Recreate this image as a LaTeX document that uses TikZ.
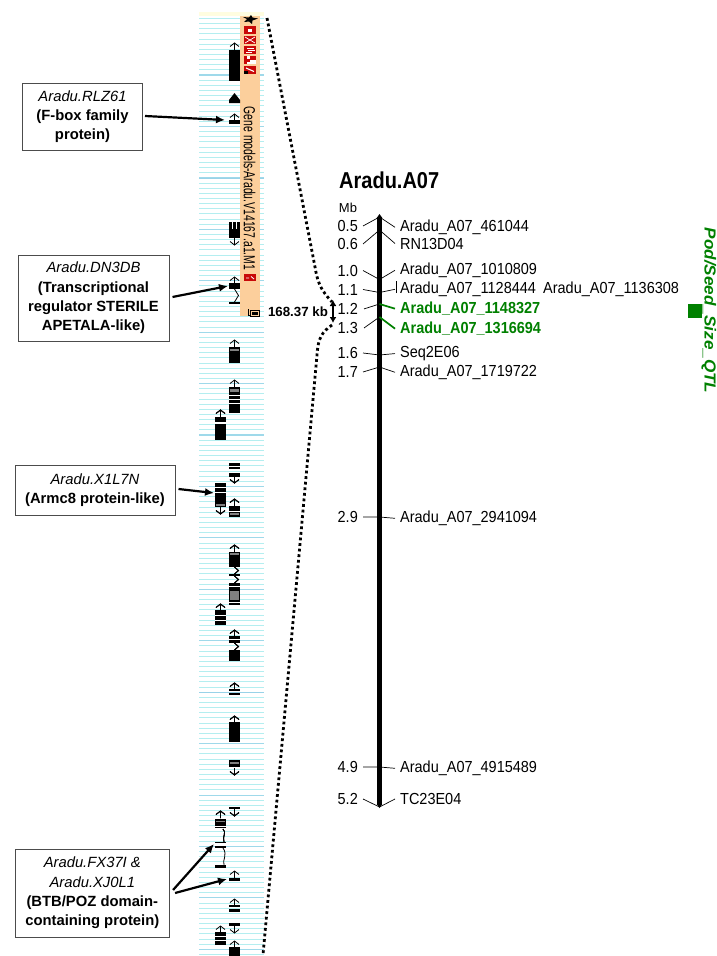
\documentclass[tikz,border=0pt]{standalone}
\usepackage{fontspec}
\setmainfont{Liberation Sans}
\usetikzlibrary{arrows.meta}
\definecolor{ltcy}{HTML}{B4EEF0}
\definecolor{dkcy}{HTML}{98D2E8}
\definecolor{orng}{HTML}{FCCF9C}
\definecolor{qtl}{HTML}{008000}
\definecolor{icr}{HTML}{C80808}
\tikzset{
 x=1pt,y=-1pt,
 lbox/.style={draw=black!70,line width=1pt,fill=white,align=center,font=\fontsize{14.8}{19.3}\selectfont,inner sep=0pt},
 pointer/.style={line width=2.2pt,-{Latex[length=9pt,width=8pt]}},
 dots/.style={line width=2.8pt,dash pattern=on 2.8pt off 2.8pt},
 mk/.style={font=\fontsize{16}{16}\selectfont,inner sep=0pt,anchor=base west,xscale=.905},
 mb/.style={font=\fontsize{16}{16}\selectfont,inner sep=0pt,anchor=base east,xscale=.905},
 gmk/.style={mk,text=qtl,font=\fontsize{16}{16}\selectfont\bfseries},
 tick/.style={line width=.7pt},
 gtick/.style={line width=1.7pt,qtl},
 thin1/.style={line width=.8pt,black},
}
\newcommand{\ua}[2]{\draw[thin1] (#1,#2+7)--(#1,#2) (#1-4.5,#2+3.5)--(#1,#2)--(#1+4.5,#2+3.5);}
\newcommand{\da}[2]{\draw[thin1] (#1,#2-7)--(#1,#2) (#1-4.5,#2-3.5)--(#1,#2)--(#1+4.5,#2-3.5);}
\newcommand{\rb}[3]{\fill[black] (#1-5.5,#2) rectangle (#1+5.5,#3);}
\newcommand{\gb}[3]{\fill[gray] (#1-4.5,#2) rectangle (#1+4.5,#3);}
\newcommand{\wb}[3]{\fill[white] (#1-5.5,#2) rectangle (#1+5.5,#3);}
\newcommand{\kink}[3]{\draw[thin1] (#1,#2)--(#1+4,#2+.5*#3-.5*#2)--(#1,#3);}
\begin{document}
\begin{tikzpicture}
\useasboundingbox (0,0) rectangle (717,956);
\fill[white] (0,0) rectangle (717,956);
% gene track background
\fill[yellow!12!white] (199,12) rectangle (264,16);
\foreach \i in {0,...,182} \draw[ltcy,line width=1.05pt] (199,18.5+\i*5.143)--(264,18.5+\i*5.143);
\foreach \i in {0,...,17} \draw[dkcy!75!ltcy,line width=1.05pt] (199,75+\i*51.43)--(264,75+\i*51.43);
\foreach \y in {178.4,692.7} \draw[dkcy,line width=1.1pt] (199,\y)--(264,\y);
% orange strip
\fill[orng] (240,16) rectangle (260,316);
\node[rotate=-90,font=\fontsize{16}{16}\selectfont,inner sep=0pt,xscale=.65] (gm) at (249.5,188.5) {Gene models-Aradu.V14167.a1.M1};
% icons
\fill[black] (249,17.5)--(251,15)--(252.5,17.5)--(258,18.5)--(252.5,20.5)--(252,24)--(249,21.5)--(244,22)--(247,19)--(243,17)--cycle;
\foreach \y in {26,36,46,56,66} \fill[icr] (244,\y) rectangle (256,\y+8);
\fill[white] (248,28.5) rectangle (252,31.5);
\draw[white,line width=.7pt] (245,37)--(255,43) (245,43)--(255,37);
\draw[white,line width=.7pt] (247,48)--(254,48) (248,50)--(255,50) (246,52)--(252,52);
\fill[white] (247,56) rectangle (250,58.5);\fill[white] (250,60) rectangle (256,64);\fill[white] (247,61.5) rectangle (250,64);
\draw[white,line width=1.1pt] (246,68)--(254,71.5);\fill[black] (244,70.5) rectangle (248,74);
\fill[icr] (244,274) rectangle (256,281);
\draw[white,line width=.8pt] (246,278)--(249,278) (251,276.5)--(254,279);
\draw[line width=.8pt] (248.5,309)--(248.5,315)--(258,315);
\draw[line width=.8pt,fill=orng] (250.5,310) rectangle (259.5,316);
\fill[black] (252,311.5) rectangle (258,314.5);
% genes
\def\R{234.5}\def\L{220.5}
\ua{\R}{43}\rb{\R}{50}{81}
\fill[black] (229,103)--(229,100)--(234.5,93)--(240,100)--(240,103)--cycle;
\ua{\R}{114}\rb{\R}{120}{124}
\rb{\R}{222}{238}\da{\R}{245}\foreach \x in {232.4,236.4}\fill[white](\x,222) rectangle (\x+.6,229);
\ua{\R}{277}\rb{\R}{283}{289}\kink{\R}{289}{302}\rb{\R}{302}{304}
\ua{\R}{340}\rb{\R}{347}{363}
\gb{\R}{349}{351}
\ua{\R}{380}\rb{\R}{387}{413}\gb{\R}{388.5}{392}\foreach \y in {395,399,403}\wb{\R}{\y}{\y+.9}
\ua{\L}{410}\rb{\L}{417}{440}\wb{\L}{422}{423.5}
\rb{\R}{463}{469}\wb{\R}{465.5}{466.2}\rb{\R}{473}{477}\da{\R}{483}
\rb{\L}{483}{507}\wb{\L}{487}{487.8}\wb{\L}{492}{492.8}\gb{\L}{504}{506}\da{\L}{514}
\ua{\R}{499}\rb{\R}{506}{517}\wb{\R}{511}{512}\gb{\R}{513}{515}
\ua{\R}{545}\rb{\R}{552}{567}\gb{\R}{553}{555}
\rb{\R}{574}{576}\kink{\R}{567}{574}\kink{\R}{576}{583}\rb{\R}{583}{590}\wb{\R}{586}{587}
\rb{\R}{590}{605}\gb{\R}{591}{600}\wb{\R}{601.5}{602.5}
\ua{\L}{604}\rb{\L}{610}{625}\wb{\L}{615}{616}\wb{\L}{620}{621}
\ua{\R}{630}\rb{\R}{636}{643}\wb{\R}{639}{640}\rb{\R}{650}{661}\kink{\R}{643}{650}
\ua{\R}{683}\rb{\R}{689}{691}\rb{\R}{693}{695}
\ua{\R}{716}\rb{\R}{722}{742}
\rb{\R}{760}{767}\gb{\R}{762}{763.5}\da{\R}{775}
\rb{\R}{807}{809}\da{\R}{816}
\ua{\L}{811}\rb{\L}{819}{828}\gb{\L}{821}{822}\wb{\L}{826}{826.8}
\draw[thin1] (223,829) .. controls (227,833) and (222,836) .. (224,842);
\rb{\L}{841.5}{842.7}\rb{\L}{846}{848}
\draw[thin1] (223,848) .. controls (228,855) and (222,860) .. (224,865);
\rb{\L}{865}{868}
\ua{\R}{871}\rb{\R}{878}{881}
\ua{\R}{899}\rb{\R}{905}{907}\rb{\R}{909}{912}
\ua{\L}{926}\rb{\L}{932}{945}\wb{\L}{936}{936.8}\wb{\L}{940}{940.8}
\rb{\R}{923}{926}\da{\R}{933}
\ua{\R}{941}\rb{\R}{947}{956}
% dotted zoom lines
\coordinate (zt) at (267,18);
\coordinate (zk1) at (332,302);
\coordinate (zk2) at (332,325);
\coordinate (zb) at (263,955);
\draw[dots] (zt) -- (315,267) .. controls (318,285) and (322,291) .. (zk1);
\draw[dots] (zk2) .. controls (322,332) and (318,338) .. (317,355) -- (zb);
\coordinate (ka) at (333,300);
\coordinate (kb) at (333,323);
\draw[line width=1.9pt,{Latex[length=6pt,width=7pt]}-{Latex[length=6pt,width=7pt]}] (ka)--(kb);
\node[font=\fontsize{13.3}{14}\selectfont\bfseries,inner sep=0pt] (kbl) at (298,311.5) {168.37 kb};
% label boxes
\node[lbox,minimum width=120pt,minimum height=67pt] (b1) at (82.5,116.5) {\textit{Aradu.RLZ61}\\\textbf{(F-box family}\\\textbf{protein)}};
\node[lbox,minimum width=151pt,minimum height=86pt] (b2) at (93.5,298) {\textit{Aradu.DN3DB}\\\textbf{(Transcriptional}\\\textbf{regulator STERILE}\\\textbf{APETALA-like)}};
\node[lbox,minimum width=160pt,minimum height=50pt] (b3) at (95,490) {\textit{Aradu.X1L7N}\\\textbf{(Armc8 protein-like)}};
\node[lbox,minimum width=154.5pt,minimum height=88pt] (b4) at (92.3,893) {\textit{Aradu.FX37I \&}\\\textit{Aradu.XJ0L1}\\\textbf{(BTB/POZ domain-}\\\textbf{containing protein)}};
\coordinate (g1) at (225,120);
\coordinate (g2) at (228,286);
\coordinate (g3) at (214,493);
\coordinate (g4a) at (214,844);
\coordinate (g4b) at (227,879);
\draw[pointer] ([xshift=2pt]b1.east|-0,116)--(g1);
\draw[pointer] ([xshift=3pt]b2.east|-0,297)--(g2);
\draw[pointer] ([xshift=3pt]b3.east|-0,489)--(g3);
\draw[pointer] ([xshift=3pt]b4.east|-0,890)--(g4a);
\draw[pointer] ([xshift=5pt]b4.east|-0,893)--(g4b);
% linkage group
\node[font=\fontsize{23}{23}\selectfont\bfseries,inner sep=0pt,anchor=west,xscale=.87] (ttl) at (339,180) {Aradu.A07};
\node[font=\fontsize{13}{14}\selectfont,inner sep=0pt] (mbl) at (348,208) {Mb};
\draw[line width=5.6pt] (379.5,218)--(379.5,804);
\fill[black] (376.7,218)--(379.5,214)--(382.3,218)--cycle;
\fill[black] (376.7,804)--(379.5,808)--(382.3,804)--cycle;
% markers
\foreach \n/\lab/\yl in {
 a/Aradu\_A07\_461044/231.5,
 b/RN13D04/249,
 c/Aradu\_A07\_1010809/274.5,
 d/Aradu\_A07\_1128444/293.5,
 g/Seq2E06/357.5,
 h/Aradu\_A07\_1719722/376.5,
 i/Aradu\_A07\_2941094/522.5,
 j/Aradu\_A07\_4915489/772.5,
 k/TC23E04/804.5}
 {\node[mk] (m\n) at (400,\yl) {\lab};}
\foreach \n/\lab/\y in {a/0.5/231.5,b/0.6/249.5,c/1.0/276,d/1.1/295,g/1.6/358.5,h/1.7/377.5,i/2.9/522.5,j/4.9/772.5,k/5.2/804.5}
 {\node[mb] (v\n) at (358,\y) {\lab};}
\node[mb] (ve) at (358,314.5) {1.2};
\node[mb] (vf) at (358,333.5) {1.3};
\node[gmk] (me) at (400,313.5) {Aradu\_A07\_1148327};
\node[gmk] (mf) at (400,333.5) {Aradu\_A07\_1316694};
\node[mk] (md2) at (543,293.5) {Aradu\_A07\_1136308};
% ticks
\foreach \n/\yc in {a/217,b/230,c/279.5,d/292.5,g/355,h/367,i/517,j/767,k/807}{
 \coordinate (c\n) at (379.5,\yc);
 \draw[tick] ([xshift=5pt]v\n.east)--(c\n)--([xshift=-5pt]m\n.west);
}
\coordinate (ce) at (379.5,304);
\coordinate (cf) at (379.5,317);
\draw[tick] ([xshift=6pt]ve.east)--(ce);
\draw[tick] ([xshift=6pt]vf.east)--(cf);
\draw[gtick] (ce)--([xshift=-5pt]me.west);
\draw[gtick] (cf)--([xshift=-5pt]mf.west);
\coordinate (dbar) at (396.8,281);
\draw[tick] (dbar)--(dbar|-0,293);
% QTL
\fill[qtl] (688,304) rectangle (702,318);
\node[rotate=-90,font=\fontsize{16}{16}\selectfont\bfseries\itshape,text=qtl,inner sep=0pt,anchor=base,xscale=1.07] (qt) at (704.5,310.5) {Pod/Seed\_Size\_QTL};
\end{tikzpicture}
\end{document}
